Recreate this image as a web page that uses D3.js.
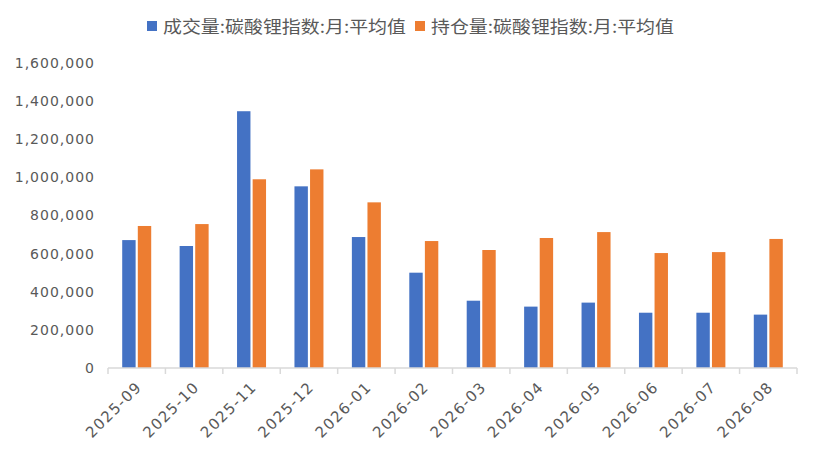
<!DOCTYPE html>
<html>
<head>
<meta charset="utf-8">
<script src="https://cdn.jsdelivr.net/npm/d3@7"></script>
<style>
  body { margin: 0; background: #fff; }
  text { font-family: "Noto Sans CJK SC", "Noto Sans", sans-serif; }
</style>
</head>
<body>
<div id="chart"></div>
<script>
// data
var months = ['2025-09', '2025-10', '2025-11', '2025-12', '2026-01', '2026-02',
              '2026-03', '2026-04', '2026-05', '2026-06', '2026-07', '2026-08'];
var volume = [671000, 640000, 1347000, 953000, 687000, 500000,
              353000, 322000, 343000, 290000, 290000, 280000];
var openInterest = [745000, 755000, 990000, 1042000, 869000, 666000,
                    619000, 682000, 713000, 603000, 608000, 677000];
var seriesNames = ['成交量:碳酸锂指数:月:平均值', '持仓量:碳酸锂指数:月:平均值'];
var colors = ['#4472C4', '#ED7D31'];
var yTicks = [0, 200000, 400000, 600000, 800000, 1000000, 1200000, 1400000, 1600000];

var width = 820, height = 466;
var svg = d3.select('#chart').append('svg')
        .attr('width', width)
        .attr('height', height);

var x = d3.scaleBand().domain(months).range([108, 797]);
var x1 = d3.scaleBand().domain([0, 1]).range([0, 29]).paddingInner(0.14);
var y = d3.scaleLinear().domain([0, 1600000]).range([368, 63]);

// y labels, no axis line
svg.append('g')
        .selectAll('text')
        .data(yTicks)
        .enter()
        .append('text')
        .attr('x', 95)
        .attr('y', (d) => y(d))
        .attr('dy', '0.35em')
        .attr('text-anchor', 'end')
        .attr('fill', '#595959')
        .style('font-family', '"DejaVu Sans", sans-serif')
        .style('font-size', '14px')
        .style('letter-spacing', '1px')
        .text(d3.format(','));

// bars
var rows = months.map((m, i) => ({month: m, values: [volume[i], openInterest[i]]}));
var grp = svg.selectAll('g.month')
        .data(rows)
        .enter()
        .append('g')
        .attr('class', 'month')
        .attr('transform', (d) =>
            'translate(' + (x(d.month) + x.bandwidth() / 2 - 14.5) + ',0)'
        );
grp.selectAll('rect')
        .data((d) => d.values)
        .enter()
        .append('rect')
        .attr('x', (d, i) => x1(i))
        .attr('y', (d) => y(d))
        .attr('width', x1.bandwidth())
        .attr('height', (d) => y(0) - y(d))
        .attr('fill', (d, i) => colors[i]);

// x axis: line plus ticks at the band edges
var xAxis = svg.append('g').attr('transform', 'translate(0,' + y(0) + ')');
xAxis.append('line')
        .attr('x1', x.range()[0]).attr('x2', x.range()[1])
        .attr('stroke', '#d9d9d9').attr('stroke-width', 1.5);
var edges = months.map((m) => x(m)).concat([x.range()[1]]);
xAxis.selectAll('line.tick')
        .data(edges)
        .enter()
        .append('line')
        .attr('class', 'tick')
        .attr('x1', (d) => d).attr('x2', (d) => d)
        .attr('y1', 0).attr('y2', 6)
        .attr('stroke', '#d9d9d9').attr('stroke-width', 1.5);
xAxis.selectAll('text')
        .data(months)
        .enter()
        .append('text')
        .attr('transform', (d) =>
            'translate(' + (x(d) + x.bandwidth() / 2 + 6) + ',20) rotate(-45)'
        )
        .attr('text-anchor', 'end')
        .attr('fill', '#595959')
        .style('font-family', '"DejaVu Sans", sans-serif')
        .style('font-size', '15px')
        .style('letter-spacing', '1.3px')
        .text((d) => d);

// legend
var legend = svg.append('g');
var legendX = [147, 415];
seriesNames.forEach((name, i) => {
    legend.append('rect')
            .attr('x', legendX[i]).attr('y', 21)
            .attr('width', 10).attr('height', 10)
            .attr('fill', colors[i]);
    legend.append('text')
            .attr('x', legendX[i] + 16)
            .attr('y', 33)
            .attr('fill', '#595959')
            .attr('textLength', 243)
            .attr('lengthAdjust', 'spacingAndGlyphs')
            .style('font-size', '17px')
            .text(name);
});
</script>
</body>
</html>
